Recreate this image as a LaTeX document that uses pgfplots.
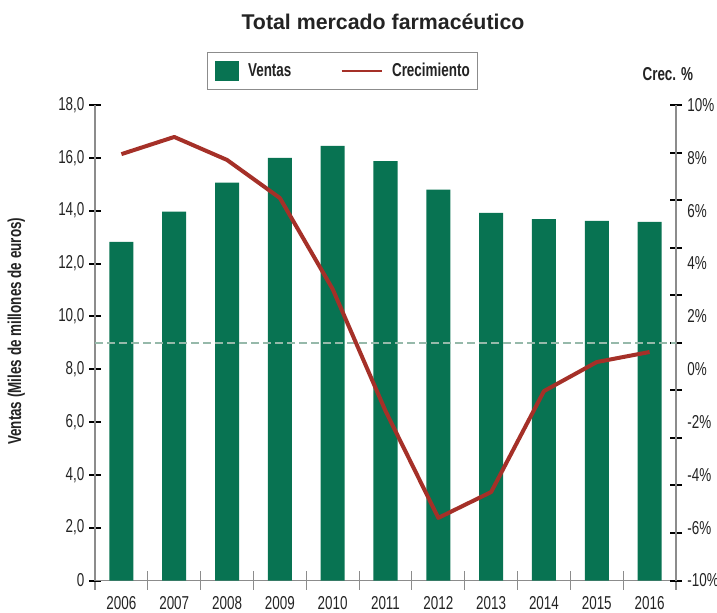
\documentclass[border=0pt]{standalone}
\usepackage{fontspec}
\setmainfont{Liberation Sans}
\newfontfamily\cond{Liberation Sans}[FakeStretch=0.72]
\usepackage{pgfplots}
\pgfplotsset{compat=1.18}
\definecolor{barg}{RGB}{8,115,82}
\definecolor{liner}{RGB}{165,48,40}
\definecolor{dashg}{RGB}{150,185,170}
\definecolor{axg}{RGB}{140,140,140}
\definecolor{txt}{RGB}{35,35,35}
\begin{document}
\begin{tikzpicture}
\useasboundingbox (-71.25pt,-23.625pt) rectangle (466.5pt,435.375pt);
% ---- left axis: bars ----
\begin{axis}[
  at={(0pt,0pt)}, anchor=south west,
  scale only axis, width=435.75pt, height=356.625pt,
  xmin=-0.5, xmax=10.5, ymin=0, ymax=18,
  axis x line*=bottom, axis y line*=left,
  axis line style={axg, line width=0.8pt, -},
  tick align=center,
  major tick length=8.8pt, minor tick length=13.7pt,
  xtick={0,1,2,3,4,5,6,7,8,9,10},
  xticklabels={2006,2007,2008,2009,2010,2011,2012,2013,2014,2015,2016},
  minor xtick={-0.5,0.5,1.5,2.5,3.5,4.5,5.5,6.5,7.5,8.5,9.5,10.5},
  every major x tick/.append style={draw=none},
  every minor x tick/.append style={axg, line width=0.8pt},
  ytick={0,2,4,6,8,10,12,14,16,18},
  yticklabels={0,{2,0},{4,0},{6,0},{8,0},{10,0},{12,0},{14,0},{16,0},{18,0}},
  every major y tick/.append style={black, line width=1.5pt},
  ticklabel style={font=\cond\fontsize{14}{16}\selectfont, text=txt},
  xticklabel style={yshift=-4pt},
  /pgf/number format/assume math mode=true,
]
\addplot[ybar, bar width=0.455, bar shift=0, fill=barg, draw=none] coordinates {
 (0,12.82) (1,13.96) (2,15.06) (3,16.00) (4,16.45) (5,15.88)
 (6,14.80) (7,13.92) (8,13.68) (9,13.61) (10,13.58)};
\end{axis}
% ---- right axis: tick marks, reference line, growth line ----
\begin{axis}[
  at={(0pt,0pt)}, anchor=south west,
  scale only axis, width=435.75pt, height=356.625pt,
  xmin=-0.5, xmax=10.5, ymin=-8, ymax=10,
  axis x line=none, axis y line*=right,
  axis line style={axg, line width=0.8pt, -},
  tick align=center, major tick length=8.8pt,
  ytick={-8,-6.2,-4.4,-2.6,-0.8,1,2.8,4.6,6.4,8.2,10},
  yticklabels={},
  every major y tick/.append style={black, line width=1.5pt},
  legend columns=2,
  legend style={at={(0.426,1.0715)}, anchor=center, draw=axg, line width=0.6pt,
    font=\cond\bfseries\fontsize{14}{16}\selectfont, text=txt,
    inner xsep=5.6pt, inner ysep=6.5pt,
    nodes={inner sep=0pt},
    /tikz/every odd column/.append style={column sep=6.75pt},
    /tikz/every even column/.append style={column sep=36.75pt}},
]
\addplot[dashg, line width=1.5pt, dash pattern=on 6pt off 3pt, forget plot] coordinates {(-0.5,1) (10.5,1)};
\addlegendimage{legend image code/.code={\fill[barg] (0pt,-7.1pt) rectangle (17.25pt,7.1pt);}}
\addlegendentry{Ventas}
\addplot[liner, line width=3pt, line join=round,
  legend image code/.code={\draw[liner, line width=2pt] (0pt,0pt) -- (30pt,0pt);}] coordinates {
 (0,8.14) (1,8.79) (2,7.92) (3,6.48) (4,3.03) (5,-1.58)
 (6,-5.63) (7,-4.65) (8,-0.83) (9,0.27) (10,0.65)};
\addlegendentry{Crecimiento}
\end{axis}
% ---- right axis: labels ----
\begin{axis}[
  at={(0pt,0pt)}, anchor=south west,
  scale only axis, width=435.75pt, height=356.625pt,
  xmin=-0.5, xmax=10.5, ymin=-8, ymax=10,
  axis x line=none, axis y line*=right,
  axis line style={draw=none},
  major tick length=0pt,
  ytick={-8,-6,-4,-2,0,2,4,6,8,10},
  yticklabels={-10\%,-6\%,-4\%,-2\%,0\%,2\%,4\%,6\%,8\%,10\%},
  ticklabel style={font=\cond\fontsize{14}{16}\selectfont, text=txt},
  yticklabel style={xshift=5pt},
  /pgf/number format/assume math mode=true,
  clip=false,
]
\node[font=\bfseries\fontsize{16}{19}\selectfont, text=txt] at (rel axis cs:0.4957,1.1746) {Total mercado farmacéutico};
\node[font=\cond\bfseries\fontsize{14}{16}\selectfont, text=txt] at (rel axis cs:0.986,1.066) {Crec. \%};
\node[font=\cond\bfseries\fontsize{14}{16}\selectfont, text=txt, rotate=90, anchor=center]
  at ([xshift=-59pt]rel axis cs:0,0.524) {Ventas (Miles de millones de euros)};
\end{axis}
\end{tikzpicture}
\end{document}
